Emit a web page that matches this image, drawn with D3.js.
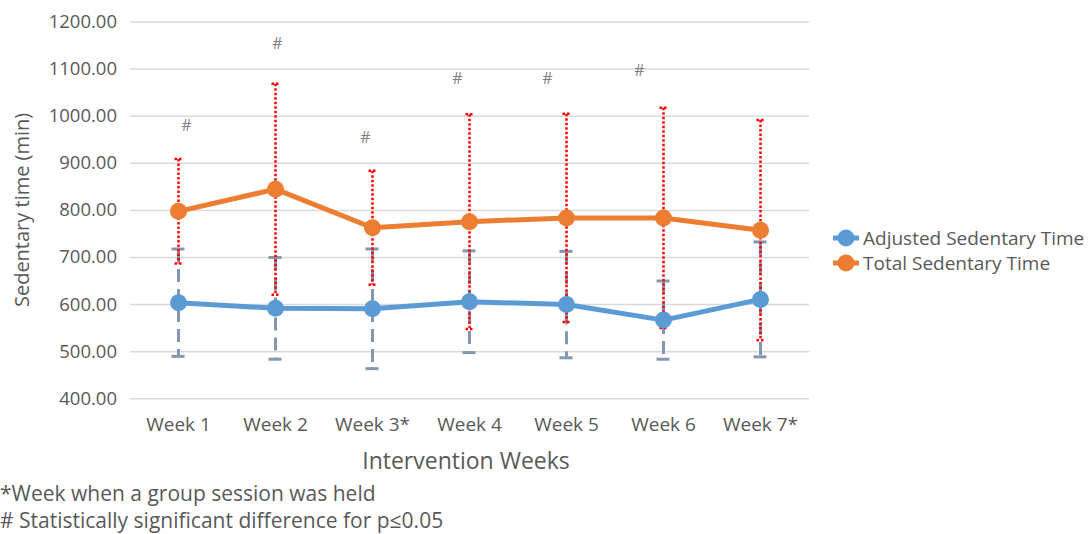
<!DOCTYPE html>
<html>
<head>
<meta charset="utf-8">
<script src="https://cdn.jsdelivr.net/npm/d3@7"></script>
<style>
  body { margin: 0; background: #fff; }
  text { font-family: "Open Sans", sans-serif; }
</style>
</head>
<body>
<div id="chart"></div>
<script>
// Data
var weeks         = ["Week 1", "Week 2", "Week 3*", "Week 4", "Week 5", "Week 6", "Week 7*"];
var adjusted      = [603, 591, 590, 605, 599, 566, 610];
var adjustedErr   = [114, 108, 127, 108, 113, 83, 122];
var total         = [797, 844, 762, 775, 783, 783, 757];
var totalErr      = [111, 224, 121, 228, 221, 234, 234];
// "#" markers (value level where the mark sits, null = none)
var hashLevel     = [980, 1154, 955, 1080, 1080, 1097, null];
var yTicks        = [400, 500, 600, 700, 800, 900, 1000, 1100, 1200];
var seriesNames   = ["Adjusted Sedentary Time", "Total Sedentary Time"];
var footnotes     = ["*Week when a group session was held", "# Statistically significant difference for p\u22640.05"];

// Size
var chart_width   = 1090;
var chart_height  = 534;
var plotLeft = 130, plotRight = 809, plotTop = 21.5, plotBottom = 398.3;
var blue = "#5b9bd5", orange = "#ed7d31";

var svg = d3.select("#chart")
    .append("svg")
    .attr("width", chart_width)
    .attr("height", chart_height);

var x = d3.scaleBand().domain(weeks).range([plotLeft, plotRight]);
var y = d3.scaleLinear().domain([400, 1200]).range([plotBottom, plotTop]);
var cx = function(d) { return x(d) + x.bandwidth() / 2; };

// Gridlines + y labels
var yAxis = svg.append("g")
    .attr("transform", "translate(" + plotLeft + ",0)")
    .call(d3.axisLeft(y).tickValues(yTicks).tickFormat(d3.format(".2f"))
        .tickSize(-(plotRight - plotLeft)).tickPadding(13));
yAxis.select(".domain").remove();
yAxis.selectAll("line").style("stroke", "#d9d9d9").style("stroke-width", 1.5);
yAxis.selectAll("text").style("font-size", "18.5px").style("fill", "#595959")
    .style("font-family", "'Open Sans', sans-serif");

// x labels
var xAxis = svg.append("g")
    .attr("transform", "translate(0," + plotBottom + ")")
    .call(d3.axisBottom(x).tickSize(0).tickPadding(19));
xAxis.select(".domain").remove();
xAxis.selectAll("text").style("font-size", "19px").style("fill", "#595959")
    .style("font-family", "'Open Sans', sans-serif");

// Error bars
function errorBars(vals, errs, color, width, dash, cap, cls) {
    var g = svg.append("g").attr("class", cls);
    weeks.forEach(function(w, i) {
        var px = cx(w);
        g.append("line")
            .attr("x1", px).attr("x2", px)
            .attr("y1", y(vals[i] + errs[i])).attr("y2", y(vals[i] - errs[i]))
            .style("stroke", color).style("stroke-width", width)
            .style("stroke-dasharray", dash);
        [vals[i] + errs[i], vals[i] - errs[i]].forEach(function(v) {
            g.append("line")
                .attr("x1", px - cap).attr("x2", px + cap)
                .attr("y1", y(v)).attr("y2", y(v))
                .style("stroke", color).style("stroke-width", width)
                .style("stroke-dasharray", dash);
        });
    });
}
errorBars(adjusted, adjustedErr, "#8497b0", 3, "13,7", 7, "err-adj");
errorBars(total, totalErr, "#ff0000", 2.5, "2.5,2", 4, "err-tot");

// Lines and markers
var line = d3.line().x(function(d) { return cx(d.w); }).y(function(d) { return y(d.v); });
[[adjusted, blue], [total, orange]].forEach(function(s) {
    var pts = weeks.map(function(w, i) { return { w: w, v: s[0][i] }; });
    svg.append("path").datum(pts).attr("d", line)
        .style("fill", "none").style("stroke", s[1]).style("stroke-width", 5)
        .style("stroke-linejoin", "round");
    svg.selectAll(null).data(pts).enter().append("circle")
        .attr("cx", function(d) { return cx(d.w); })
        .attr("cy", function(d) { return y(d.v); })
        .attr("r", 8.5).style("fill", s[1]);
});

// "#" significance marks
var hashDx = [8, 2, -7, -12, -19, -24, 0];
svg.selectAll(".hash").data(weeks).enter().filter(function(d, i) { return hashLevel[i] != null; })
    .append("text").attr("class", "hash")
    .attr("x", function(d) { return cx(d) + hashDx[weeks.indexOf(d)]; })
    .attr("y", function(d) { return y(hashLevel[weeks.indexOf(d)]) + 6; })
    .attr("text-anchor", "middle")
    .style("font-size", "16px").style("fill", "#7f7f7f")
    .text("#");

// Axis titles
svg.append("text")
    .attr("transform", "translate(29," + ((plotTop + plotBottom) / 2) + ") rotate(-90)")
    .attr("text-anchor", "middle")
    .style("font-size", "20px").style("fill", "#595959")
    .text("Sedentary time (min)");
svg.append("text")
    .attr("x", 466).attr("y", 469)
    .attr("text-anchor", "middle")
    .style("font-size", "23px").style("fill", "#595959")
    .text("Intervention Weeks");

// Legend
var legend = svg.selectAll(".legend").data(seriesNames).enter().append("g")
    .attr("class", "legend")
    .attr("transform", function(d, i) { return "translate(833," + (238 + i * 25) + ")"; });
legend.append("line").attr("x1", 0).attr("x2", 26)
    .style("stroke", function(d, i) { return i ? orange : blue; }).style("stroke-width", 5);
legend.append("circle").attr("cx", 13).attr("r", 8.5)
    .style("fill", function(d, i) { return i ? orange : blue; });
legend.append("text").attr("x", 30).attr("y", 6.5)
    .style("font-size", "19px").style("fill", "#595959")
    .text(function(d) { return d; });

// Footnotes
svg.selectAll(".foot").data(footnotes).enter().append("text")
    .attr("class", "foot")
    .attr("x", 0).attr("y", function(d, i) { return 501 + i * 27; })
    .style("font-size", "21px").style("fill", "#595959")
    .text(function(d) { return d; });
</script>
</body>
</html>
